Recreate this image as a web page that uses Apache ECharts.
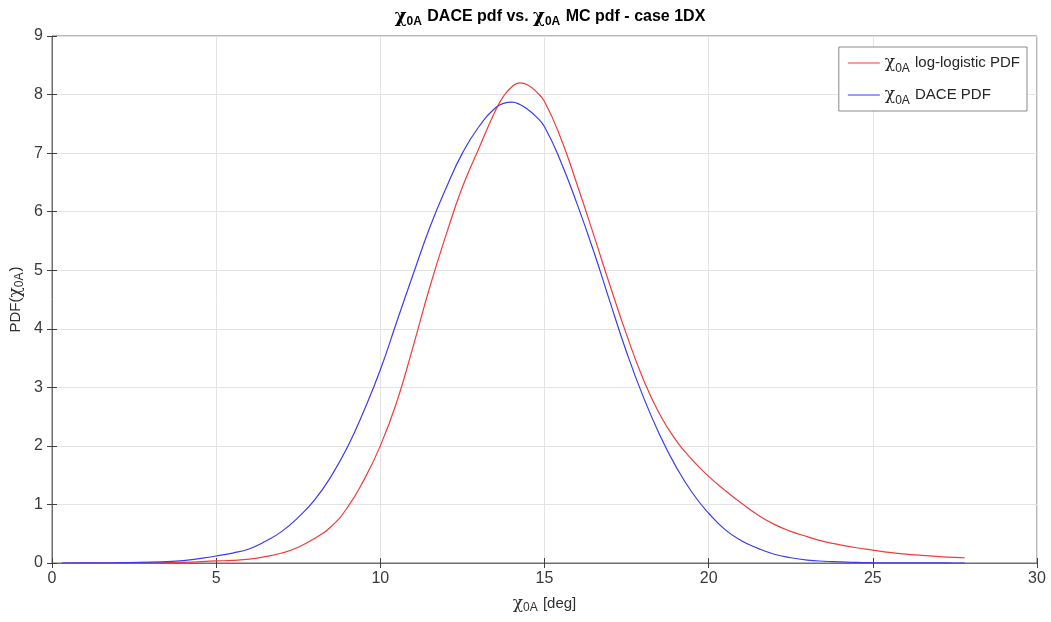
<!DOCTYPE html>
<html><head><meta charset="utf-8">
<script src="https://cdn.jsdelivr.net/npm/echarts@6/dist/echarts.min.js"></script>
<style>html,body{margin:0;padding:0;background:#fff}#c{width:1051px;height:622px}</style>
</head><body><div id="c"></div>
<script>
var xs = [0.3,1,2,3,4,5,5.5,6,6.5,7,7.5,8,8.5,9,9.5,10,10.5,11,11.5,12,12.5,13,13.5,13.75,14,14.25,14.5,14.75,15,15.5,16,16.5,17,17.5,18,18.5,19,19.5,20,20.5,21,21.5,22,22.5,23,23.5,24,24.5,25,25.5,26,26.5,27,27.5,27.8];
var logLogistic = [0,0,0.001,0.004,0.012,0.035,0.045,0.065,0.11,0.17,0.27,0.42,0.62,0.95,1.42,2.0,2.75,3.7,4.7,5.6,6.42,7.08,7.72,7.97,8.13,8.2,8.16,8.05,7.88,7.25,6.45,5.6,4.73,3.9,3.15,2.55,2.1,1.76,1.48,1.24,1.02,0.82,0.66,0.54,0.45,0.37,0.31,0.26,0.22,0.18,0.15,0.13,0.11,0.095,0.09];
var dace = [0,0.002,0.006,0.015,0.04,0.12,0.17,0.24,0.37,0.54,0.78,1.08,1.48,1.98,2.6,3.3,4.12,4.93,5.72,6.4,7.0,7.45,7.77,7.85,7.87,7.83,7.74,7.62,7.45,6.85,6.12,5.32,4.45,3.6,2.85,2.2,1.65,1.2,0.85,0.57,0.38,0.25,0.15,0.09,0.05,0.03,0.02,0.01,0.005,0.003,0.002,0.001,0.001,0.0,0.0];
var xTicks = [0,5,10,15,20,25,30];
var yTicks = [0,1,2,3,4,5,6,7,8,9];
var seriesNames = ['log-logistic PDF','DACE PDF'];

function pairs(v){ return xs.map(function(x,i){ return [x, v[i]]; }); }
var chiRich = {
  chi:{fontFamily:'DejaVu Serif',fontSize:17,color:'#262626'},
  sub:{fontSize:12,color:'#262626',fontFamily:'Liberation Sans',verticalAlign:'bottom',padding:[9,1,0,0]},
  t:{fontSize:15,color:'#262626',fontFamily:'Liberation Sans'}
};
var nameRich = {
  chi:{fontFamily:'DejaVu Serif',fontSize:17,color:'#303030'},
  sub:{fontSize:12,color:'#303030',fontFamily:'Liberation Sans',padding:[9,1,0,0]},
  t:{fontSize:15,color:'#303030',fontFamily:'Liberation Sans'}
};
var titleRich = {
  chi:{fontFamily:'DejaVu Serif',fontSize:18,color:'#000'},
  sub:{fontSize:12,fontWeight:'bold',color:'#000',fontFamily:'Liberation Sans',padding:[10,1,0,0]},
  t:{fontSize:16,fontWeight:'bold',color:'#000',fontFamily:'Liberation Sans'}
};
var axCommon = {
  min:0,
  axisLine:{show:true,lineStyle:{color:'#6e6e6e',width:1}},
  axisTick:{show:true,inside:true,length:5,lineStyle:{color:'#404040'}},
  splitLine:{show:true,lineStyle:{color:'#e3e3e3',width:1}},
  axisLabel:{color:'#3a3a3a',fontSize:16,fontFamily:'Liberation Sans'}
};
var chart = echarts.init(document.getElementById('c'));
chart.setOption({
  animation:false,
  backgroundColor:'#fff',
  title:{
    text:'{chi|χ}{sub|0A}{t| DACE pdf vs. }{chi|χ}{sub|0A}{t| MC pdf - case 1DX}',
    left:545, top:1, textAlign:'center',
    textStyle:{rich:titleRich}
  },
  grid:{left:52,right:14,top:36,bottom:59,show:true,borderColor:'#6e6e6e',borderWidth:1,containLabel:false,outerBoundsMode:'none'},
  legend:{
    right:24, top:47, orient:'vertical',
    backgroundColor:'#fff', borderColor:'#888', borderWidth:1,
    padding:[4,7,4,9], itemGap:8,
    itemWidth:32, itemHeight:10,
    icon:'path://M0,5 L32,5 L32,6 L0,6 Z',
    data:seriesNames,
    formatter:function(n){ return '{chi|χ}{sub|0A}{t| '+n+'}'; },
    textStyle:{rich:chiRich, lineHeight:24}
  },
  xAxis:[Object.assign({},axCommon,{
    type:'value', max:30, interval:5,
    name:'{chi|χ}{sub|0A}{t| [deg]}', nameLocation:'middle', nameGap:30, nameMoveOverlap:false,
    nameTextStyle:{rich:nameRich},
    axisLabel:Object.assign({},axCommon.axisLabel,{margin:8,formatter:function(v){return xTicks.indexOf(v)>=0?String(v):'';}})
  }),{
    type:'value', position:'top', min:0, max:30, interval:5,
    axisLine:{show:false}, axisTick:{show:true,inside:true,length:5,lineStyle:{color:'#404040'}},
    axisLabel:{show:false}, splitLine:{show:false}
  }],
  yAxis:[Object.assign({},axCommon,{
    type:'value', max:9, interval:1,
    name:'{t|PDF(}{chi|χ}{sub|0A}{t|)}', nameLocation:'middle', nameGap:26, nameRotate:90, nameMoveOverlap:false,
    nameTextStyle:{rich:nameRich},
    axisLabel:Object.assign({},axCommon.axisLabel,{margin:9,formatter:function(v){return yTicks.indexOf(v)>=0?String(v):'';}})
  }),{
    type:'value', position:'right', min:0, max:9, interval:1,
    axisLine:{show:false}, axisTick:{show:true,inside:true,length:5,lineStyle:{color:'#404040'}},
    axisLabel:{show:false}, splitLine:{show:false}
  }],
  series:[
    {name:seriesNames[0], type:'line', data:pairs(logLogistic), smooth:0.5, showSymbol:false, symbol:'none',
     lineStyle:{color:'#f23b3b',width:1.2}, itemStyle:{color:'#f23b3b'}},
    {name:seriesNames[1], type:'line', data:pairs(dace), smooth:0.5, showSymbol:false, symbol:'none',
     lineStyle:{color:'#3b3bf2',width:1.2}, itemStyle:{color:'#3b3bf2'}}
  ]
});
</script></body></html>
